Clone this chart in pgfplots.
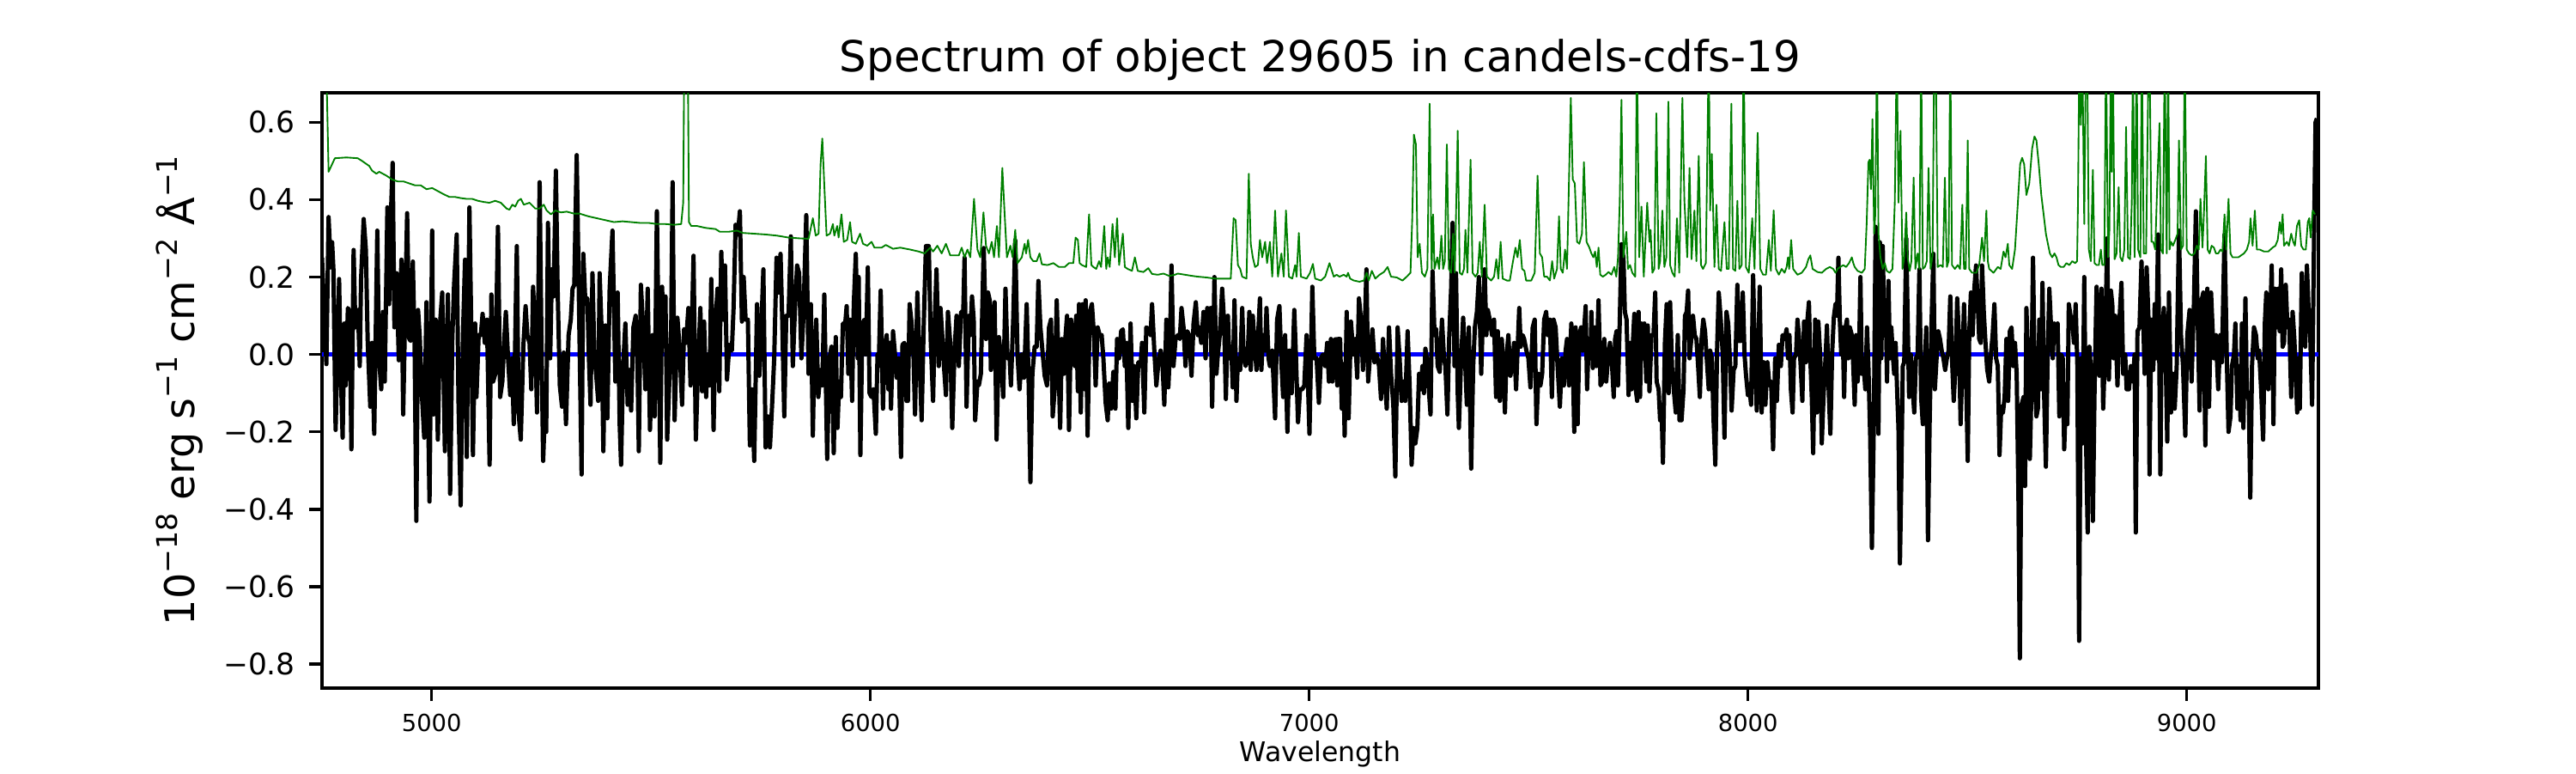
\documentclass[border=0pt]{standalone}
\usepackage{fontspec}
\setmainfont{DejaVu Sans}
\usepackage{pgfplots}
\pgfplotsset{compat=1.18}
\newcommand{\sups}[1]{\raisebox{0.42em}{\fontsize{8}{8}\selectfont #1}}
\definecolor{mplgreen}{rgb}{0,0.5,0}
\begin{document}
\begin{tikzpicture}
\begin{axis}[
  scale only axis, width=560.09pt, height=166.94pt,
  xmin=4750, xmax=9300, ymin=-0.862, ymax=0.676,
  axis line style={line width=0.8pt},
  tick align=outside, major tick length=3.5pt,
  every tick/.append style={line width=0.8pt, black},
  tick pos=left,
  xtick={5000,6000,7000,8000,9000}, xticklabels={5000,6000,7000,8000,9000},
  ytick={-0.8,-0.6,-0.4,-0.2,0,0.2,0.4,0.6},
  yticklabels={−0.8,−0.6,−0.4,−0.2,0.0,0.2,0.4,0.6},
  xticklabel style={font=\fontsize{6.6}{8}\selectfont, anchor=base, inner sep=0pt, yshift=-8.7pt},
  yticklabel style={font=\fontsize{8.3}{10}\selectfont, anchor=east, inner sep=0pt, xshift=-3.8pt},
  title={Spectrum of object 29605 in candels-cdfs-19},
  title style={at={(axis description cs:0.5,1.0)}, anchor=base, inner sep=0pt, font=\fontsize{12}{14}\selectfont},
  xlabel={Wavelength},
  xlabel style={at={(axis description cs:0.5,-0.124)}, anchor=base, inner sep=0pt, font=\fontsize{7.6}{9}\selectfont},
  ylabel={10\sups{−18} erg s\sups{−1} cm\sups{−2} Å\sups{−1}},
  ylabel style={at={(axis description cs:-0.0639,0.5)}, anchor=base, inner sep=0pt, font=\fontsize{11.5}{13}\selectfont},
]
% zero line
\addplot[blue, line width=1.3pt] coordinates {(4750,0) (9300,0)};
% flux
\addplot[black, line width=1.2pt, line join=round, mark=none] coordinates {
(4750,0.25) (4760,-0.025) (4765,0.355) (4770,0.225) (4773,0.29) (4776,0.22) (4781,-0.195) (4789,0.195) (4792,-0.01) (4797,-0.215) (4801,0.08) (4804,-0.08) (4809,0.12) (4813,0.11) (4817,-0.245) (4822,0.27) (4826,0.07) (4832,0.115) (4836,-0.03) (4839,0.195) (4845,0.35) (4850,0.27) (4854,0.04) (4860,-0.135) (4864,0.03) (4869,-0.205) (4876,0.32) (4880,-0.01) (4885,-0.09) (4889,0.11) (4893,-0.07) (4899,0.38) (4903,0.13) (4907,0.36) (4911,0.495) (4915,0.07) (4920,0.21) (4925,-0.015) (4931,0.245) (4935,-0.155) (4939,0.08) (4944,0.365) (4949,0.04) (4952,0.035) (4957,0.24) (4961,0.03) (4965,-0.43) (4969,0.115) (4973,0.04) (4977,-0.09) (4983,-0.215) (4988,0.135) (4995,-0.38) (5001,0.32) (5004,-0.155) (5009,0.09) (5014,-0.22) (5019,0.08) (5024,0.16) (5030,-0.25) (5037,0.155) (5042,-0.36) (5047,0.04) (5051,0.18) (5057,0.31) (5061,-0.12) (5066,-0.39) (5071,0.04) (5076,0.245) (5080,-0.265) (5086,0.38) (5090,0.08) (5094,-0.26) (5099,0.08) (5102,-0.11) (5107,0.05) (5112,0.05) (5116,0.105) (5121,0.03) (5126,0.09) (5132,-0.285) (5136,0.155) (5140,-0.07) (5145,-0.05) (5151,0.33) (5156,-0.11) (5161,-0.07) (5166,0.05) (5169,0.11) (5174,-0.01) (5179,-0.105) (5183,-0.01) (5187,-0.18) (5194,0.28) (5198,-0.15) (5203,-0.22) (5209,0.025) (5214,0.125) (5218,0.05) (5223,0.03) (5227,-0.09) (5231,0.175) (5236,0.05) (5240,-0.15) (5246,0.445) (5250,0.05) (5254,-0.275) (5259,-0.11) (5261,-0.2) (5265,0.34) (5270,-0.01) (5274,0.22) (5278,0.15) (5283,0.475) (5287,0.17) (5292,-0.08) (5297,-0.135) (5301,0.005) (5306,-0.18) (5312,0.05) (5317,0.09) (5321,0.17) (5325,0.18)
(5330.5,0.515) (5341.6,-0.31) (5345.5,0.26) (5350,0.14) (5354.7,0.145) (5358.6,-0.02) (5362,-0.13) (5366.4,0.21) (5371,-0.02) (5374,-0.04) (5379.5,-0.12) (5382.7,0.21) (5387.3,0.06) (5391.2,-0.25) (5395.8,0.075) (5400.3,-0.165) (5405.6,0.17) (5412,0.32) (5418.6,-0.07) (5423.8,0.16) (5428.4,-0.18) (5431.6,-0.285) (5436.2,-0.03) (5441.4,0.08) (5446.7,-0.13) (5451,-0.04) (5454.5,-0.145) (5459.7,0.07) (5464.9,0.1) (5468.8,-0.01) (5472,-0.25) (5476.7,0.18) (5481.9,0.07) (5487,-0.09) (5492.3,0.17) (5497.5,-0.195) (5503.4,0.05) (5508,-0.16) (5513.2,0.37) (5521,-0.28) (5525,0.175) (5529.5,0.04) (5532.8,0.15) (5536.7,-0.22) (5541.2,-0.08) (5545.8,0.07) (5549,0.445) (5553.6,-0.17) (5560,0.095) (5565.4,0.01) (5570.6,-0.13) (5575.2,0.065) (5579.7,0.03) (5585,0.12) (5590,-0.08) (5596.7,0.255) (5602,-0.22) (5606.5,-0.05) (5612.3,0.12) (5616.3,-0.095) (5620.8,0.085) (5625.4,-0.11) (5629.3,0.0) (5633.2,-0.08) (5637.1,0.195) (5642.4,-0.195) (5647,0.09) (5651.5,0.17) (5655.4,-0.095) (5660,0.265) (5664.5,0.09) (5668.4,0.23) (5673,-0.065) (5678.2,0.025) (5684,0.01) (5688,0.12) (5692.6,0.335) (5697.8,0.31) (5702.4,0.37) (5707,0.085) (5711,0.2) (5715.4,0.09) (5720.6,0.09) (5725.2,-0.235) (5729.8,-0.09) (5735,-0.275) (5741.5,0.13) (5746.7,-0.055) (5751.3,0.07) (5755.9,0.22) (5761,-0.24) (5766.3,-0.16) (5770.9,-0.24) (5775.4,-0.14) (5780.6,-0.01) (5785.9,0.25) (5790.4,0.16) (5795,0.26) (5798.9,0.09) (5803.5,-0.16) (5808,0.1) (5813.3,0.1) (5818.5,0.305) (5823,-0.03) (5827.6,0.11) (5832.8,0.23) (5837.4,0.21) (5842.6,-0.01) (5847.2,0.1) (5853.7,0.36) (5858.9,-0.05) (5864.1,0.13) (5868.7,-0.21) (5872,0.0) (5876.5,0.09) (5881.1,-0.11) (5886.3,-0.04) (5890.2,-0.08) (5894.8,0.155)
(5901.3,-0.27) (5906.5,-0.01) (5911.1,0.02) (5916.3,-0.255) (5920.9,0.045) (5924.8,-0.19) (5928.7,-0.07) (5932.6,-0.11) (5937.2,0.08) (5941.8,0.07) (5945.7,0.125) (5949.6,-0.05) (5953.5,0.09) (5958.1,-0.12) (5962,0.13) (5966.6,0.26) (5971.1,-0.01) (5973.1,0.2) (5977,-0.26) (5981.6,0.08) (5986.1,0.09) (5989.4,0.0) (5994,0.225) (5997.9,-0.1) (6002.4,-0.11) (6007,-0.09) (6012.2,-0.205) (6016.1,0.0) (6018.7,-0.03) (6023.3,0.165) (6028.5,-0.14) (6031.8,0.01) (6037,0.05) (6040.9,-0.09) (6043.5,0.03) (6046.8,-0.14) (6051.4,0.06) (6055.9,0.0) (6059.8,-0.06) (6064.4,-0.01) (6069.6,-0.265) (6072.9,0.025) (6077.4,0.03) (6082,-0.12) (6085.3,-0.12) (6089.2,0.13) (6093.8,0.08) (6098.3,-0.01) (6101.6,-0.155) (6106.8,0.16) (6111.4,0.0) (6116.6,-0.17) (6121.2,0.07) (6126.4,0.28) (6132.9,0.28) (6137.5,0.03) (6142.7,-0.12) (6146.6,0.09) (6150.5,0.22) (6155.7,-0.03) (6159.6,0.12) (6163.5,0.05) (6167.5,-0.03) (6172,-0.105) (6176.6,0.11) (6181.8,0.03) (6186.4,-0.19) (6191.6,0.01) (6196.2,0.1) (6201.4,-0.03) (6206.6,0.11) (6211.2,0.1) (6214.4,0.25) (6219,-0.135) (6224.2,0.1) (6227.5,0.05) (6231.4,0.15) (6235.3,0.09) (6238.6,-0.17) (6243.8,-0.07) (6247,-0.08) (6251.6,-0.05) (6254.9,0.12) (6258.1,0.275) (6263.3,0.04) (6267.9,0.16) (6271.8,0.14) (6274.4,-0.04) (6278.4,0.09) (6282.9,0.135) (6287.5,-0.22) (6292.7,0.045) (6297.9,-0.01) (6302.5,-0.11) (6307.7,0.17) (6312.3,-0.01) (6316.8,0.0) (6320.1,-0.08) (6325.3,0.09) (6329.9,0.295) (6335.1,0.0) (6339.7,-0.09) (6344.9,0.0) (6350.1,-0.06) (6356,0.13) (6360.5,-0.07) (6364.5,-0.33) (6369,-0.05) (6374.2,0.02) (6378.8,0.02) (6382.7,0.19) (6387.3,0.07) (6391.9,0.01) (6397.1,-0.055) (6402.3,-0.08) (6406.9,0.07) (6411.4,0.09) (6415.3,-0.16) (6419.9,-0.09) (6424.5,0.14) (6428.4,-0.01) (6432.3,-0.19) (6436.2,0.04) (6440.8,-0.05) (6444.7,0.05) (6448,0.1) (6452.5,-0.195) (6457.1,0.09) (6461,0.05) (6465.6,-0.03) (6468.8,0.1) (6472.7,-0.095) (6475.4,0.13) (6479.3,-0.15)
(6483.8,0.13) (6488.4,-0.09) (6490.4,0.14) (6494.9,-0.21) (6499.5,0.11) (6504.7,0.13) (6509.3,0.05) (6513.2,-0.08) (6517.8,0.07) (6522.3,0.05) (6526.9,0.05) (6530.8,-0.01) (6536,-0.125) (6540.6,-0.17) (6543.9,-0.075) (6548.4,-0.14) (6553.6,-0.045) (6558.2,-0.14) (6562.1,0.04) (6566.7,-0.01) (6571.3,0.06) (6575.2,0.065) (6579.7,-0.03) (6583,0.03) (6587.6,-0.19) (6592.8,0.08) (6597.3,-0.12) (6601.2,-0.03) (6605.8,-0.165) (6610.4,-0.02) (6615.6,-0.03) (6618.9,0.03) (6624.1,-0.15) (6628.6,0.07) (6633.9,0.065) (6638.4,0.05) (6641.7,0.13) (6646.9,0.01) (6651.5,-0.08) (6656.7,-0.015) (6661.3,0.01) (6665.8,-0.03) (6669.7,-0.13) (6674.3,0.09) (6678.9,-0.085) (6682.1,0.0) (6686.1,0.23) (6690.6,-0.03) (6695.2,0.04) (6700.4,0.05) (6705,0.04) (6708.9,0.12) (6713.5,0.07) (6718,-0.03) (6721.9,0.06) (6726.5,0.05) (6731.7,-0.055) (6736.3,0.08) (6741.5,0.135) (6746.1,0.05) (6749.3,0.07) (6753.9,0.03) (6759.1,0.11) (6763.7,-0.01) (6767.6,0.12) (6772.2,0.1) (6775.4,0.12) (6778.7,-0.135) (6783.9,0.2) (6788.5,-0.05) (6791.7,0.0) (6796.9,0.06) (6801.5,0.17) (6806.1,0.08) (6810,-0.115) (6814.6,0.1) (6817.8,-0.01) (6822.4,0.02) (6825.6,-0.085) (6829.6,0.14) (6834.1,-0.12) (6837.4,-0.01) (6842.6,-0.04) (6847.2,0.12) (6850.4,0.0) (6855,-0.03) (6859.6,-0.01) (6863.5,0.11) (6866.7,-0.04) (6871.3,0.1) (6875.2,0.03) (6879.8,-0.04) (6884.4,0.07) (6887.6,0.145) (6890.9,-0.04) (6894.8,0.05) (6899.4,0.01) (6902.6,0.12) (6907.2,-0.01) (6910.4,-0.03) (6915.7,0.01) (6922.2,-0.165) (6926.7,0.09) (6932,0.125) (6936.5,-0.02) (6940.5,-0.11) (6945,0.05) (6950.2,-0.2) (6954.8,0.01) (6960,-0.1) (6965.9,0.115) (6969.8,-0.01) (6974.4,-0.175) (6979,-0.09) (6984.2,-0.09) (6988.7,-0.08) (6993.9,0.05) (7000.5,-0.205) (7007,0.175) (7011.5,-0.01) (7016.8,-0.01) (7022,-0.125) (7026.6,-0.01) (7031.1,0.0) (7036.3,-0.03) (7040.9,0.03) (7044.8,-0.07) (7049.4,0.04)
(7052.7,-0.07) (7055.9,0.035) (7060.5,0.04) (7063.8,-0.08) (7065.7,0.04) (7070.3,0.04) (7074.2,-0.14) (7077.5,-0.025) (7080.7,-0.21) (7085.3,0.11) (7089.8,-0.165) (7095,0.085) (7100.3,0.0) (7104.8,0.04) (7109.4,-0.06) (7113.3,0.145) (7117.9,0.09) (7122.5,-0.04) (7126.4,0.06) (7130.3,0.22) (7134.2,-0.07) (7138.8,0.0) (7144,0.065) (7148.6,-0.02) (7153.8,0.0) (7159,-0.03) (7163.6,-0.115) (7168.1,0.04) (7172,-0.05) (7176.6,-0.14) (7181.8,0.07) (7186.4,-0.05) (7191.6,-0.13) (7196.2,-0.315) (7201.4,0.07) (7206,-0.01) (7210.5,-0.12) (7214.4,-0.07) (7219,-0.12) (7224.2,0.06) (7228.8,-0.08) (7233.3,-0.285) (7237.3,-0.19) (7241.8,-0.23) (7246.4,-0.19) (7250.3,-0.05) (7253.6,-0.09) (7258.1,-0.03) (7261.4,-0.1) (7264.7,0.015) (7269.2,-0.02) (7273.1,-0.1) (7276.4,-0.155) (7281,0.215) (7285.5,0.05) (7289.4,0.065) (7292.7,-0.03) (7297.3,-0.045) (7302.5,0.09) (7307.1,-0.01) (7310.3,-0.03) (7314.9,-0.155) (7318.8,0.04) (7323.4,0.17) (7326.6,0.34) (7331.2,-0.03) (7334.5,0.21) (7338.4,-0.1) (7341,-0.19) (7346.2,-0.01) (7350.8,0.095) (7354.7,0.0) (7359.2,-0.13) (7363.8,0.07) (7369,-0.295) (7373.6,-0.03) (7377.5,0.07) (7382.1,0.11) (7386.6,0.2) (7391.9,-0.05) (7395.8,0.1) (7399.7,0.22) (7403.6,0.05) (7406.9,0.115) (7411.4,0.09) (7416.6,0.05) (7421.2,0.09) (7425.8,-0.11) (7429.7,0.06) (7434.3,-0.12) (7438.8,0.04) (7442.7,-0.04) (7446,-0.15) (7449.3,-0.01) (7453.8,0.05) (7458.4,-0.055) (7462.3,-0.03) (7466.9,0.03) (7471.4,-0.09) (7474.7,0.01) (7478.6,0.12) (7481.9,0.02) (7486.4,0.05) (7489.7,0.04) (7494.9,0.01) (7499.5,-0.01) (7504.1,-0.085) (7509.3,0.07) (7513.8,0.09) (7517.8,-0.18) (7522.3,-0.05) (7526.9,-0.08) (7530.8,-0.05) (7535.4,0.09) (7539.9,0.11) (7543.8,0.05) (7548.4,0.09) (7553,-0.11) (7556.9,0.09) (7561.5,0.07) (7566,-0.03) (7571.2,-0.135) (7575.8,-0.01) (7580.4,-0.08) (7584.3,0.01) (7587.5,0.04) (7592.1,-0.08) (7597.3,0.08) (7600.6,-0.01) (7603.9,-0.2) (7607.1,0.07) (7611.7,-0.18) (7615.6,0.05) (7619.5,0.07) (7623.4,0.01)
(7630,0.125) (7633.2,-0.09) (7637.1,0.04) (7641.1,-0.01) (7643,0.11) (7646.3,-0.035) (7650.8,0.07) (7654.7,-0.03) (7659.3,0.14) (7663.9,-0.08) (7667.8,-0.07) (7672.4,0.04) (7676.9,-0.07) (7680.8,-0.01) (7685.4,0.03) (7690,-0.025) (7693.9,-0.11) (7697.1,0.04) (7700.4,0.06) (7703.7,-0.08) (7707.6,0.08) (7711.5,0.285) (7716.1,0.25) (7719.3,0.11) (7723.2,0.09) (7727.8,-0.105) (7731.1,0.03) (7734.3,-0.09) (7737.6,0.03) (7740.9,0.105) (7744.1,-0.09) (7747.4,-0.12) (7750.6,0.11) (7753.9,-0.11) (7757.2,0.08) (7760.4,-0.01) (7763.7,0.08) (7768.2,-0.07) (7771.5,0.075) (7775.4,-0.095) (7780,0.05) (7784.6,0.05) (7788.5,0.16) (7791.7,-0.07) (7796.3,-0.09) (7799.6,-0.17) (7802.8,-0.13) (7806.1,-0.28) (7810.6,0.03) (7814.6,0.13) (7819.1,-0.1) (7822.4,0.135) (7827,-0.04) (7831.5,-0.1) (7835.4,-0.15) (7840,0.05) (7843.9,-0.17) (7848.5,-0.17) (7853,-0.09) (7856.3,0.1) (7860.2,0.11) (7863.5,0.165) (7866.7,-0.01) (7870.7,0.04) (7874.6,0.1) (7878.5,0.05) (7882.4,0.04) (7886.3,-0.03) (7890.2,-0.11) (7894.1,0.04) (7898.1,0.09) (7902,0.06) (7905.9,-0.01) (7910.5,-0.09) (7913.7,0.01) (7917.6,-0.01) (7921.5,-0.17) (7925.5,-0.285) (7929.4,0.01) (7933.3,0.16) (7937.9,0.09) (7942.4,0.0) (7946.3,-0.215) (7950.9,0.11) (7954.8,0.08) (7959.4,-0.03) (7962.6,-0.145) (7967.2,-0.04) (7971.1,-0.03) (7975.7,0.18) (7978.9,0.035) (7983.5,0.035) (7988.1,0.16) (7992,0.0) (7995.2,-0.05) (7999.8,-0.105) (8003.1,-0.085) (8007,-0.13) (8011.6,0.205) (8016.1,-0.03) (8020,-0.145) (8023.3,-0.01) (8026.6,0.175) (8031.1,-0.15) (8035.7,-0.02) (8039.6,-0.13) (8044.2,-0.02) (8048.7,-0.08) (8052.7,-0.07) (8057.2,-0.245) (8061.8,-0.01) (8065.7,-0.12) (8070.3,0.025) (8074.8,-0.03) (8078.7,0.05) (8083.3,0.04) (8087.9,0.065) (8091.1,-0.01) (8094.4,0.05) (8097.7,-0.09) (8101.6,-0.15) (8104.8,-0.01) (8109.4,0.0) (8112.7,0.09) (8115.9,0.05) (8119.8,-0.025) (8123.8,-0.12) (8127.7,0.085) (8132.2,-0.02) (8135.5,0.09) (8138.8,0.135) (8142,-0.01) (8145.3,-0.11) (8148.5,-0.255) (8153.1,0.09) (8157,-0.15) (8160.3,0.085) (8164.8,-0.01) (8168.1,-0.23) (8172,-0.11) (8176.6,-0.01) (8179.9,0.075) (8184.4,-0.11) (8187.7,-0.205) (8191.6,0.0) (8195.5,0.095) (8199.4,0.13) (8202.7,0.1) (8206,0.25)
(8209.2,0.09) (8212.5,0.0) (8215.7,0.07) (8219,-0.11) (8222.3,0.07) (8225.5,0.09) (8228.8,-0.01) (8232,0.07) (8236.6,0.05) (8239.9,-0.03) (8243.1,-0.13) (8246.4,0.05) (8249.7,-0.07) (8252.9,-0.01) (8256.2,0.2) (8259.4,-0.05) (8262.7,-0.01) (8267.3,-0.09) (8271.2,0.07) (8274.4,-0.03) (8278.4,-0.21) (8282.3,-0.5) (8286.8,-0.17) (8290.8,0.33) (8294,-0.01) (8297.3,-0.205) (8300.5,0.29) (8303.8,-0.01) (8307.1,0.28) (8310.3,0.07) (8313.6,0.14) (8316.8,-0.07) (8320.1,0.19) (8323.4,-0.01) (8326.6,0.07) (8329.9,0.0) (8333.2,-0.05) (8336.4,0.03) (8339.7,-0.09) (8342.9,-0.19) (8346.2,-0.54) (8349.5,-0.31) (8352.7,-0.03) (8356,-0.02) (8360.6,0.3) (8364.5,0.05) (8367.1,-0.11) (8371,0.0) (8374.9,-0.08) (8378.8,-0.15) (8382.7,-0.01) (8386.6,0.0) (8390.6,0.22) (8394.5,-0.11) (8398.4,-0.18) (8402.3,-0.04) (8406.2,0.07) (8410.1,-0.48) (8414,-0.17) (8418,0.07) (8422.5,0.26) (8425.8,-0.09) (8429.7,-0.01) (8433.6,0.06) (8437.5,0.04) (8441.4,0.01) (8445.4,-0.01) (8449.3,-0.04) (8453.2,-0.01) (8457.1,0.01) (8461,0.15) (8464.9,-0.01) (8468.8,-0.12) (8472.8,-0.03) (8476.7,0.145) (8480.6,0.05) (8484.5,-0.18) (8488.4,-0.03) (8492.3,0.13) (8496.2,-0.01) (8500.8,-0.275) (8504.1,0.05) (8508,0.16) (8511.9,0.05) (8515.8,0.17) (8519.7,0.23) (8523.6,0.13) (8526.9,0.04) (8530.2,0.03) (8533.4,0.23) (8537.3,0.11) (8541.2,0.03) (8545.2,-0.04) (8549.7,-0.07) (8553.6,0.0) (8557.5,0.05) (8561.5,0.13) (8565.4,-0.01) (8569.3,-0.03) (8573.2,-0.26) (8577.1,-0.135) (8581,-0.15) (8584.9,-0.11) (8588.9,0.04) (8592.8,-0.12) (8596.7,0.06) (8600.6,0.07) (8604.5,-0.03) (8608.4,0.03) (8612.3,-0.05) (8616.3,-0.36) (8619.5,-0.785) (8623.4,-0.13) (8628,-0.11) (8631.3,-0.34) (8634.5,0.12) (8638.4,-0.02) (8642.3,-0.27) (8645.6,-0.11) (8649.5,0.25) (8653.4,-0.06) (8657.3,-0.16) (8660.6,-0.14) (8663.9,0.09) (8667.8,-0.09) (8671.1,0.185) (8675,-0.11) (8678.9,-0.29) (8682.8,-0.01) (8686.7,0.17) (8690.6,0.07) (8694.5,-0.01) (8697.8,0.08) (8701.7,0.05) (8705.6,0.08) (8709.5,-0.16) (8713.4,0.0) (8717.4,-0.01) (8720.6,-0.245) (8723.9,-0.13) (8727.8,-0.18) (8731.1,0.13) (8735,0.1) (8738.9,0.09) (8742.8,0.03) (8746.7,0.13) (8750.6,-0.03) (8754.5,-0.74) (8758.5,-0.01) (8762.4,-0.23) (8766.3,0.2) (8770.2,-0.21) (8774.1,-0.46) (8778,0.02) (8781.9,-0.05) (8785.9,-0.43) (8789.8,-0.09)
(8794.4,0.175) (8797.6,0.01) (8800.9,-0.055) (8805.5,0.17) (8809.4,-0.14) (8813.9,0.02) (8818.5,0.3) (8822.4,-0.065) (8827,0.165) (8830.2,0.13) (8833.5,-0.01) (8836.8,0.1) (8842,-0.08) (8846.6,0.09) (8851.1,0.185) (8855,-0.05) (8859.6,0.0) (8862.9,-0.09) (8868.1,-0.09) (8872.6,-0.03) (8877.2,-0.07) (8881.1,0.0) (8883.7,-0.46) (8887.6,0.06) (8892.2,0.07) (8896.8,0.24) (8900.7,0.09) (8904,-0.05) (8908.5,0.225) (8913.1,0.08) (8915,-0.31) (8919,0.09) (8923.5,-0.04) (8926.8,0.13) (8930,-0.01) (8934.6,0.31) (8939.8,-0.31) (8942.4,0.03) (8947.7,0.12) (8952.2,-0.03) (8955.5,-0.225) (8959.4,0.16) (8964,-0.15) (8968.5,-0.05) (8972.4,-0.14) (8977,-0.03) (8982.2,0.32) (8986.8,0.05) (8991.4,-0.03) (8996.6,-0.21) (9001.1,0.05) (9006.4,0.115) (9010.9,-0.07) (9016.2,0.13) (9020.7,0.37) (9024.6,0.11) (9029.2,-0.145) (9033.8,0.14) (9037.7,0.16) (9042.2,-0.235) (9046.8,0.17) (9050.7,-0.135) (9055.3,0.16) (9058.6,0.07) (9061.8,-0.01) (9066.4,0.05) (9071.6,-0.09) (9076.2,0.05) (9080.1,-0.02) (9083.3,0.16) (9086,0.31) (9091.2,-0.01) (9095.1,-0.2) (9099.6,-0.16) (9102.9,-0.03) (9107.5,0.0) (9110.7,0.08) (9115.3,-0.14) (9119.2,-0.03) (9122.5,-0.17) (9125.7,0.08) (9129,-0.19) (9133.6,0.145) (9136.8,-0.09) (9141.4,-0.12) (9144.7,-0.37) (9148.6,-0.03) (9153.1,0.07) (9157.7,0.05) (9161.6,-0.01) (9164.9,0.01) (9169.4,-0.09) (9174,-0.22) (9177.9,0.08) (9181.2,0.16) (9185.7,-0.09) (9189,0.05) (9193.6,0.23) (9197.5,-0.18) (9200.8,0.17) (9204.7,0.07) (9208.6,0.17) (9211.8,0.06) (9215.1,0.22) (9218.4,0.02) (9221.6,0.03) (9225.5,0.18) (9229.4,0.07) (9233.4,0.09) (9237.9,-0.11) (9241.2,0.11) (9245.1,0.04) (9247.7,-0.03) (9251.6,-0.15) (9254.2,-0.01) (9257.5,-0.14) (9262.1,0.21) (9266,0.09) (9269.9,0.02) (9273.8,0.23) (9277.7,0.11) (9281.6,0.04) (9285.6,-0.13) (9290.1,0.31) (9293.4,0.60) (9296.6,0.61)
};
% sky / noise
\addplot[mplgreen, line width=0.45pt, line join=round, mark=none] coordinates {
(4750,0.8) (4759.8,0.75) (4765,0.472) (4779.3,0.507) (4805.4,0.509) (4831.5,0.507) (4841.3,0.50) (4857.6,0.487) (4864.1,0.475) (4873.9,0.467) (4880.4,0.472) (4896.8,0.462) (4909.8,0.452) (4922.8,0.447) (4935.9,0.447) (4948.9,0.442) (4962,0.437) (4975,0.437) (4988.1,0.427) (5001.1,0.43) (5014.2,0.422) (5027.2,0.414) (5040.3,0.407) (5053.3,0.407) (5066.4,0.404) (5079.4,0.402) (5092.4,0.402) (5105.5,0.397) (5118.5,0.394) (5131.6,0.392) (5144.6,0.397) (5157.7,0.392) (5170.7,0.377) (5177.2,0.374) (5183.8,0.387) (5190.3,0.382) (5196.8,0.397) (5203.3,0.402) (5209.9,0.387) (5222.9,0.392) (5236,0.377) (5245.7,0.377) (5255.5,0.387) (5262,0.372) (5271.8,0.362) (5281.6,0.372) (5294.7,0.367) (5307.7,0.369) (5324,0.364)
(5337,0.364) (5356.6,0.357) (5376.2,0.352) (5395.8,0.347) (5415.3,0.342) (5434.9,0.344) (5454.5,0.342) (5474,0.34) (5493.6,0.34) (5513.2,0.337) (5532.8,0.337) (5552.3,0.335) (5568.6,0.337) (5573.2,0.392) (5575.8,0.8) (5583.6,0.8) (5586.3,0.342) (5591.5,0.332) (5604.5,0.332) (5624.1,0.327) (5646.9,0.324) (5656.7,0.317) (5676.3,0.317) (5695.8,0.32) (5708.9,0.314) (5735,0.312) (5761.1,0.31) (5787.2,0.307) (5813.3,0.302) (5839.3,0.30) (5858.9,0.299) (5868.7,0.352) (5875.2,0.307) (5881.7,0.312) (5886.3,0.492) (5890.2,0.558) (5894.8,0.437) (5900,0.307)
(5907.8,0.312) (5914.4,0.337) (5917.6,0.307) (5924.2,0.332) (5927.4,0.302) (5933.9,0.362) (5939.2,0.291) (5947,0.296) (5953.5,0.342) (5958.1,0.291) (5966.6,0.286) (5976.3,0.312) (5982.9,0.286) (5992.6,0.281) (6002.4,0.291) (6009,0.276) (6025.3,0.276) (6035,0.283) (6051.4,0.273) (6067.7,0.276) (6090.5,0.271) (6110.1,0.266) (6123.1,0.261) (6136.2,0.276) (6142.7,0.266) (6152.5,0.281) (6162.2,0.261) (6172,0.286) (6181.8,0.256) (6201.4,0.256) (6207.9,0.276) (6214.4,0.251) (6221,0.271) (6227.5,0.251) (6236,0.402) (6243.8,0.271) (6250.3,0.251) (6257.5,0.367) (6263.3,0.281) (6269.9,0.261) (6276.4,0.291) (6281.6,0.251) (6288.1,0.332) (6292.7,0.251) (6300.5,0.482) (6305.8,0.362) (6311,0.251) (6318.8,0.281) (6324,0.251) (6329.9,0.322) (6335.1,0.236) (6344.9,0.251) (6351.4,0.286) (6354.7,0.261) (6359.2,0.296) (6364.5,0.251) (6371,0.241) (6378.8,0.241) (6385.3,0.261) (6390.6,0.233) (6403.6,0.231) (6416.7,0.236) (6423.2,0.231) (6429.7,0.226) (6442.7,0.226) (6452.5,0.236) (6462.3,0.236) (6467.5,0.302) (6472.7,0.296) (6476.7,0.236)
(6481.9,0.231) (6491.7,0.226) (6498.2,0.362) (6503.4,0.231) (6508,0.226) (6514.5,0.221) (6521,0.241) (6525.6,0.226) (6532.8,0.332) (6537.3,0.221) (6540.6,0.251) (6545.2,0.226) (6551.7,0.337) (6556.9,0.251) (6562.1,0.352) (6566.7,0.231) (6575.2,0.312) (6579.7,0.226) (6586.3,0.221) (6596,0.216) (6602.6,0.251) (6609.1,0.216) (6622.1,0.213) (6633.2,0.223) (6641.7,0.208) (6654.7,0.206) (6667.8,0.209) (6680.8,0.203) (6693.9,0.206) (6700.4,0.209) (6716.7,0.206) (6733,0.203) (6746.1,0.201) (6765.6,0.199) (6785.2,0.196) (6811.3,0.196) (6821.1,0.196) (6827.6,0.352) (6832.2,0.347) (6837.4,0.231) (6842.6,0.221) (6847.2,0.201) (6857,0.196) (6862.2,0.467) (6866.7,0.286) (6871.3,0.251) (6876.5,0.226) (6883,0.231) (6887.6,0.296) (6892.8,0.251) (6899.4,0.291) (6903.9,0.236) (6910.4,0.291) (6915.7,0.201) (6922.2,0.372) (6928.7,0.201) (6936.5,0.261) (6941.8,0.201) (6947,0.372) (6953.5,0.201) (6961.3,0.196) (6967.8,0.231) (6971.1,0.201) (6976.3,0.314) (6980.9,0.201) (6993.9,0.196) (7001.8,0.211) (7008.3,0.234) (7013.5,0.196) (7026.6,0.191) (7036.3,0.201) (7046.1,0.236) (7055.9,0.201)
(7062.4,0.206) (7069,0.201) (7078.8,0.206) (7085.3,0.201) (7088.5,0.211) (7093.1,0.196) (7101.6,0.191) (7114.6,0.188) (7124.4,0.191) (7130.9,0.211) (7135.5,0.191) (7142.7,0.216) (7150.5,0.196) (7160.3,0.206) (7170.1,0.213) (7178.6,0.226) (7186.4,0.201) (7199.4,0.199) (7212.5,0.191) (7222.3,0.201) (7230.7,0.211) (7234.7,0.35) (7238.6,0.568) (7243.1,0.543) (7247.1,0.251) (7251.6,0.286) (7256.8,0.211) (7263.4,0.201) (7269.2,0.221) (7274.4,0.648) (7279,0.221) (7282.3,0.362) (7285.5,0.221) (7292,0.251) (7296,0.221) (7301.2,0.307) (7305.1,0.221) (7309,0.241) (7313.6,0.543) (7318.2,0.221) (7323.4,0.211) (7327.9,0.312) (7331.8,0.211) (7338.4,0.578) (7342.9,0.211) (7348.2,0.206) (7352.7,0.221) (7356,0.322) (7360.5,0.211) (7367.7,0.503) (7372.3,0.211) (7378.8,0.201) (7384,0.211) (7388.6,0.291) (7393.2,0.201) (7399.7,0.387) (7404.9,0.201) (7414.7,0.191) (7421.2,0.201) (7426.4,0.246) (7431,0.196) (7436.2,0.291) (7440.8,0.196) (7450.6,0.191) (7457.1,0.191) (7463.6,0.236) (7470.1,0.276) (7474.7,0.251) (7479.9,0.296) (7485.1,0.221) (7490.4,0.216) (7494.3,0.191) (7506,0.191) (7513.8,0.211) (7520.4,0.462) (7525.6,0.261) (7530.8,0.251) (7535.4,0.201) (7541.9,0.201) (7548.4,0.191) (7553.6,0.241) (7558.2,0.196) (7564.7,0.221) (7569.3,0.357) (7573.2,0.221) (7577.8,0.211) (7583,0.271) (7587.5,0.221) (7596.1,0.663) (7600.6,0.452) (7605.2,0.442) (7610.4,0.291) (7615.6,0.286) (7621.5,0.312) (7626,0.497)
(7632,0.291) (7638.4,0.276) (7643,0.261) (7647.6,0.251) (7651.5,0.266) (7655.4,0.226) (7659.3,0.276) (7663.2,0.206) (7669.1,0.201) (7675.6,0.206) (7682.1,0.213) (7688.7,0.206) (7695.2,0.226) (7699.8,0.201) (7703.7,0.251) (7707.6,0.392) (7711.5,0.658) (7716.1,0.251) (7722.6,0.317) (7726.5,0.221) (7731.1,0.231) (7736.3,0.211) (7742.8,0.201) (7746.7,0.8) (7752,0.251) (7757.2,0.382) (7762.4,0.201) (7770.2,0.392) (7775.4,0.291) (7778,0.322) (7782,0.211) (7786.5,0.221) (7791.1,0.623) (7796.3,0.221) (7799.6,0.241) (7804.8,0.372) (7809.3,0.226) (7813.9,0.251) (7818.5,0.653) (7822.4,0.231) (7827.6,0.211) (7832.8,0.201) (7838,0.352) (7843.3,0.211) (7850.4,0.663) (7855,0.397) (7861.5,0.251) (7866.7,0.482) (7871.3,0.246) (7877.8,0.372) (7882.4,0.241) (7887.6,0.513) (7892.8,0.231) (7897.4,0.221) (7903.9,0.236) (7910.5,0.8) (7913.7,0.372) (7917.6,0.518) (7923.5,0.226) (7928.1,0.387) (7933.3,0.221) (7938.5,0.216) (7946.3,0.342) (7951.5,0.221) (7956.1,0.221) (7962,0.648) (7965.9,0.221) (7971.1,0.216) (7975.7,0.397) (7980.3,0.221) (7985.5,0.231) (7990,0.8) (7995.2,0.226) (8001.8,0.211) (8009.6,0.352) (8014.8,0.221) (8022,0.573) (8027.9,0.221) (8034.4,0.206) (8040.9,0.206) (8047.4,0.296) (8052,0.216) (8058.5,0.372) (8063.7,0.221) (8070.3,0.206) (8076.8,0.221) (8083.3,0.211) (8087.9,0.226) (8091.1,0.251) (8093.8,0.221) (8098.3,0.296) (8102.9,0.221) (8112.7,0.206) (8122.4,0.211) (8132.2,0.226) (8137.5,0.246) (8142,0.256) (8147.2,0.221) (8158.3,0.213) (8168.1,0.211) (8177.9,0.221) (8186.4,0.226) (8194.2,0.221) (8199.4,0.211)
(8204,0.221) (8217,0.231) (8223.6,0.226) (8230.1,0.236) (8236.6,0.251) (8239.9,0.236) (8243.1,0.226) (8249.7,0.216) (8259.4,0.211) (8266,0.221) (8270.5,0.342) (8274.4,0.497) (8277.1,0.503) (8280.3,0.427) (8283.6,0.608) (8287.5,0.312) (8290.1,0.362) (8294,0.8) (8297.3,0.312) (8301.8,0.251) (8307.1,0.221) (8311.6,0.236) (8316.2,0.216) (8322.7,0.211) (8329.2,0.221) (8334.5,0.392) (8339,0.8) (8342.9,0.392) (8347.5,0.578) (8352.1,0.221) (8356,0.251) (8360.6,0.367) (8363.8,0.251) (8368.4,0.216) (8372.3,0.241) (8377.5,0.457) (8381.4,0.221) (8386.6,0.261) (8390.6,0.221) (8394.5,0.8) (8398.4,0.221) (8403,0.226) (8407.5,0.241) (8411.4,0.482) (8416,0.221) (8420.6,0.256) (8424.5,0.8) (8427.7,0.8) (8432.3,0.226) (8438.8,0.231) (8444,0.226) (8448.6,0.457) (8453.2,0.226) (8457.1,0.241) (8461,0.8) (8464.9,0.231) (8471.4,0.221) (8478,0.231) (8483.2,0.221) (8488.4,0.387) (8492.3,0.221) (8496.2,0.221) (8500.8,0.553) (8504.1,0.221) (8510.6,0.211) (8520.4,0.211) (8526.9,0.231) (8533.4,0.302) (8538,0.241) (8543.2,0.372) (8546.5,0.241) (8549.7,0.221) (8559.5,0.211) (8569.3,0.226) (8575.8,0.221) (8582.3,0.266) (8586.9,0.251) (8592.1,0.286) (8595.4,0.231) (8601.9,0.221) (8608.4,0.271) (8615,0.392) (8620.2,0.492) (8624.7,0.508) (8629.3,0.492) (8634.5,0.412) (8641,0.442) (8647.6,0.533) (8652.8,0.563) (8657.3,0.553) (8662.6,0.492) (8668.4,0.412) (8673.7,0.362) (8678.9,0.312) (8683.4,0.286) (8688,0.261) (8693.2,0.251) (8698.4,0.261) (8703,0.251) (8707.6,0.231) (8712.8,0.226) (8719.3,0.226) (8725.8,0.236) (8732.4,0.231) (8738.9,0.241) (8745.4,0.236) (8750,0.241)
(8752,0.392) (8755.2,0.8) (8758.5,0.593) (8761.8,0.8) (8766.3,0.337) (8770.2,0.8) (8772.8,0.8) (8776.8,0.271) (8781.3,0.241) (8785.9,0.477) (8789.8,0.236) (8794.4,0.231) (8799.6,0.231) (8804.2,0.271) (8807.4,0.231) (8812,0.231) (8815.9,0.8) (8820.5,0.251) (8823.7,0.322) (8827,0.8) (8829,0.472) (8831.5,0.8) (8835.5,0.246) (8840,0.261) (8844.6,0.432) (8848.5,0.251) (8853.1,0.241) (8857.6,0.271) (8861.6,0.588) (8866.1,0.251) (8870.7,0.246) (8874.6,0.392) (8877.2,0.8) (8881.1,0.251) (8885.7,0.8) (8889,0.271) (8894.2,0.251) (8897.4,0.8) (8902,0.261) (8907.2,0.261) (8911.8,0.673) (8915,0.8) (8919.6,0.291) (8923.5,0.291) (8928.1,0.271) (8932.7,0.442) (8937.9,0.598) (8941.1,0.271) (8945.7,0.261) (8949.6,0.8) (8954.2,0.261) (8957.4,0.8) (8960.7,0.271) (8964,0.291) (8968.5,0.281) (8973.8,0.296) (8979,0.312) (8982.2,0.553) (8986.8,0.271) (8991.4,0.281) (8995.3,0.8) (8999.9,0.271) (9005.1,0.261) (9011.6,0.256) (9017.5,0.261) (9022.7,0.281) (9027.2,0.271) (9031.2,0.402) (9035.7,0.276) (9039,0.362) (9043.5,0.513) (9047.5,0.271) (9052,0.261) (9056.6,0.281) (9061.8,0.276) (9066.4,0.261) (9071.6,0.261) (9076.8,0.271) (9081.4,0.266) (9086,0.362) (9089.9,0.271) (9095.1,0.402) (9099.6,0.261) (9104.2,0.251) (9110.7,0.251) (9117.3,0.251) (9123.8,0.256) (9130.3,0.261) (9136.8,0.271) (9142,0.291) (9145.3,0.352) (9149.9,0.281) (9155.1,0.372) (9159.7,0.271) (9166.2,0.271) (9176,0.266) (9185.7,0.266) (9195.5,0.276) (9202,0.281) (9207.3,0.296) (9211.8,0.342) (9215.1,0.312) (9218.4,0.362) (9221.6,0.281) (9228.1,0.291) (9232.7,0.281) (9237.9,0.312) (9242.5,0.291) (9246.4,0.281) (9251,0.332) (9256.2,0.347) (9260.8,0.281) (9266,0.271) (9271.2,0.271) (9275.8,0.342) (9279,0.352) (9282.3,0.302) (9286.9,0.372) (9292.1,0.362)
};
\end{axis}
\pgfresetboundingbox
\path[use as bounding box] (-90.34pt,-23.85pt) rectangle (632.36pt,192.96pt);
\end{tikzpicture}
\end{document}
